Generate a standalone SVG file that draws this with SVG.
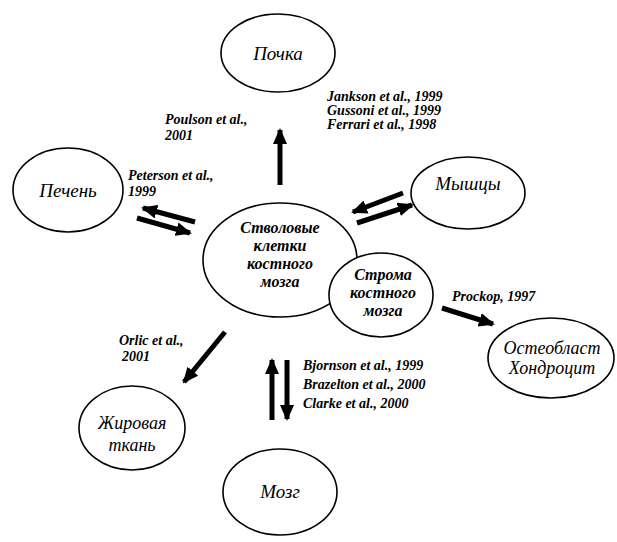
<svg xmlns="http://www.w3.org/2000/svg" width="617" height="542" viewBox="0 0 617 542">
<style>
.node{fill:#fff;stroke:#000;stroke-width:1.6}
.lbl{font-family:"Liberation Serif","Times New Roman","DejaVu Serif","Noto Serif",serif;font-style:italic;font-size:18px;text-anchor:middle;fill:#000}
.big{font-size:19px}
.sm{font-size:16px;font-weight:bold}
.cit{font-family:"Liberation Serif","Times New Roman","DejaVu Serif","Noto Serif",serif;font-style:italic;font-weight:bold;font-size:14px;fill:#000}
.arr{stroke:#000;stroke-width:5;fill:none;marker-end:url(#ah)}
</style>
<defs>
<marker id="ah" markerUnits="userSpaceOnUse" markerWidth="16" markerHeight="14" refX="14" refY="7" orient="auto">
<path d="M0,0 L16,7 L0,14 Z" fill="#000"/>
</marker>
</defs>
<rect width="617" height="542" fill="#fff"/>
<g id="connectors">
<line class="arr" x1="280" y1="185" x2="280" y2="130"/>
<line class="arr" x1="195" y1="222" x2="143" y2="208"/>
<line class="arr" x1="137" y1="218" x2="190" y2="233"/>
<line class="arr" x1="403" y1="193" x2="353" y2="212"/>
<line class="arr" x1="357" y1="223" x2="412" y2="205"/>
<line class="arr" x1="442" y1="308" x2="493" y2="324"/>
<line class="arr" x1="225" y1="332" x2="184" y2="382"/>
<line class="arr" x1="272" y1="420" x2="272" y2="360"/>
<line class="arr" x1="287" y1="360" x2="287" y2="419"/>
</g>
<g id="pochka">
<ellipse class="node" cx="278" cy="53" rx="57" ry="39"/>
<text class="lbl big" x="278" y="60">Почка</text>
</g>
<g id="pechen">
<ellipse class="node" cx="68" cy="190" rx="55" ry="42"/>
<text class="lbl big" x="68" y="197">Печень</text>
</g>
<g id="myshcy">
<ellipse class="node" cx="468" cy="193" rx="57" ry="36"/>
<text class="lbl big" x="468" y="190">Мышцы</text>
</g>
<g id="stem">
<ellipse class="node" cx="280" cy="260" rx="77" ry="57"/>
<text class="lbl sm" x="280" y="233">Стволовые</text>
<text class="lbl sm" x="280" y="251">клетки</text>
<text class="lbl sm" x="280" y="269">костного</text>
<text class="lbl sm" x="280" y="287">мозга</text>
</g>
<g id="stroma">
<ellipse class="node" cx="381" cy="295" rx="52" ry="42"/>
<text class="lbl sm" x="383" y="280">Строма</text>
<text class="lbl sm" x="383" y="298">костного</text>
<text class="lbl sm" x="383" y="316">мозга</text>
</g>
<g id="osteo">
<ellipse class="node" cx="551" cy="358" rx="63" ry="40"/>
<text class="lbl" x="552" y="354">Остеобласт</text>
<text class="lbl" x="552" y="374">Хондроцит</text>
</g>
<g id="fat">
<ellipse class="node" cx="132" cy="428" rx="53" ry="42"/>
<text class="lbl" x="132" y="429">Жировая</text>
<text class="lbl" x="132" y="451">ткань</text>
</g>
<g id="brain">
<ellipse class="node" cx="280" cy="492" rx="57" ry="43"/>
<text class="lbl big" x="280" y="498">Мозг</text>
</g>
<g id="citations">
<text class="cit" x="327" y="101">Jankson et al., 1999</text>
<text class="cit" x="327" y="115">Gussoni et al., 1999</text>
<text class="cit" x="327" y="129">Ferrari et al., 1998</text>
<text class="cit" x="165" y="124">Poulson et al.,</text>
<text class="cit" x="165" y="140">2001</text>
<text class="cit" x="128" y="180">Peterson et al.,</text>
<text class="cit" x="128" y="196">1999</text>
<text class="cit" x="452" y="301">Prockop, 1997</text>
<text class="cit" x="119" y="345">Orlic et al.,</text>
<text class="cit" x="122" y="361">2001</text>
<text class="cit" x="303" y="370">Bjornson et al., 1999</text>
<text class="cit" x="303" y="389">Brazelton et al., 2000</text>
<text class="cit" x="303" y="408">Clarke et al., 2000</text>
</g>
</svg>
